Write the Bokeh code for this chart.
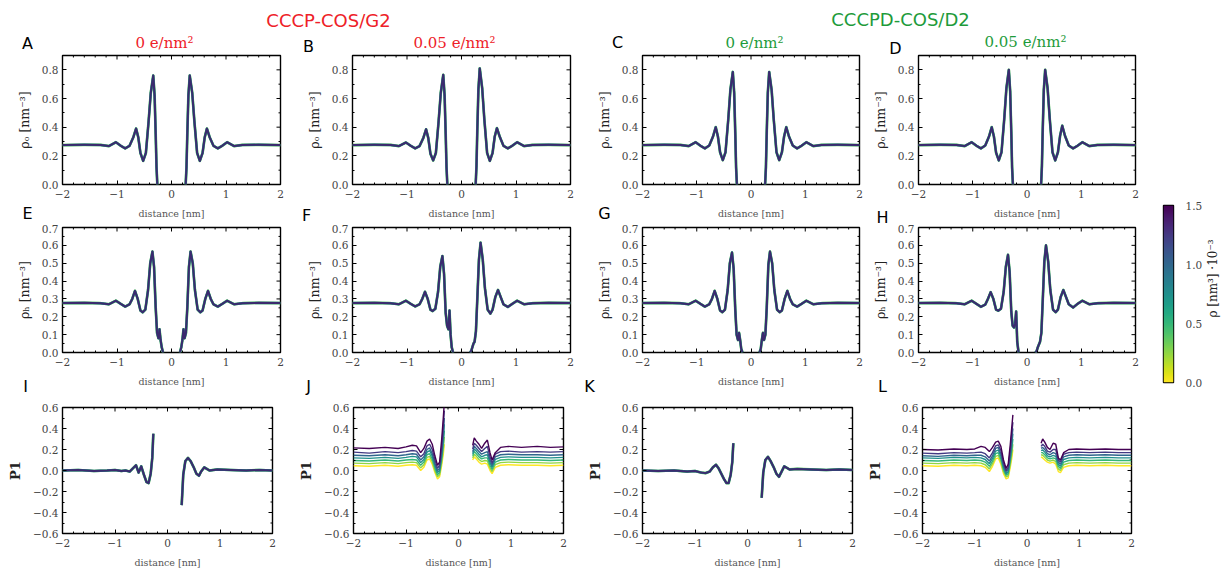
import numpy as np
from bokeh.plotting import figure
from bokeh.models import Range1d, FixedTicker, Label, LinearColorMapper, CustomJSTickFormatter, GridBox
from bokeh.layouts import row, column
from bokeh.palettes import Viridis256
from bokeh.embed import file_html
from bokeh.resources import INLINE

# ---------------- data ----------------
# oxygen density rho_O (panels A-D)
XO_L = [-2.0, -1.6, -1.3, -1.15, -1.02, -0.93, -0.85, -0.77, -0.70, -0.65, -0.61, -0.57, -0.52, -0.47, -0.42, -0.38, -0.335, -0.31, -0.29, -0.275, -0.26]
XO_R = [0.26, 0.275, 0.29, 0.31, 0.335, 0.38, 0.42, 0.47, 0.52, 0.57, 0.61, 0.65, 0.70, 0.77, 0.85, 0.93, 1.02, 1.15, 1.3, 1.6, 2.0]
A_L = [0.275, 0.277, 0.276, 0.268, 0.295, 0.270, 0.252, 0.270, 0.330, 0.390, 0.330, 0.220, 0.165, 0.220, 0.440, 0.640, 0.760, 0.620, 0.350, 0.120, 0.0]
A_R = [0.0, 0.120, 0.350, 0.620, 0.760, 0.640, 0.440, 0.220, 0.165, 0.220, 0.330, 0.390, 0.330, 0.270, 0.252, 0.270, 0.295, 0.268, 0.276, 0.277, 0.275]
B_L = [0.275, 0.277, 0.276, 0.268, 0.293, 0.270, 0.252, 0.268, 0.325, 0.385, 0.325, 0.215, 0.168, 0.220, 0.440, 0.640, 0.765, 0.620, 0.350, 0.120, 0.0]
B_R = [0.0, 0.130, 0.380, 0.660, 0.810, 0.670, 0.450, 0.220, 0.165, 0.220, 0.335, 0.393, 0.335, 0.270, 0.252, 0.270, 0.295, 0.268, 0.276, 0.277, 0.275]
C_L = [0.275, 0.277, 0.276, 0.268, 0.295, 0.270, 0.252, 0.272, 0.335, 0.400, 0.335, 0.225, 0.170, 0.225, 0.450, 0.660, 0.785, 0.640, 0.360, 0.120, 0.0]
C_R = [0.0, 0.120, 0.360, 0.640, 0.785, 0.660, 0.450, 0.225, 0.170, 0.225, 0.335, 0.400, 0.335, 0.272, 0.252, 0.270, 0.295, 0.268, 0.276, 0.277, 0.275]
D_L = [0.275, 0.277, 0.276, 0.268, 0.295, 0.270, 0.252, 0.272, 0.335, 0.400, 0.335, 0.222, 0.168, 0.225, 0.455, 0.670, 0.800, 0.650, 0.370, 0.120, 0.0]
D_R = [0.0, 0.130, 0.380, 0.660, 0.800, 0.670, 0.455, 0.225, 0.168, 0.225, 0.340, 0.410, 0.340, 0.272, 0.252, 0.270, 0.295, 0.268, 0.276, 0.277, 0.275]

# hydrogen density rho_H (panels E-H)
XH_L = [-2.0, -1.6, -1.3, -1.15, -1.02, -0.93, -0.85, -0.77, -0.72, -0.67, -0.62, -0.57, -0.53, -0.48, -0.43, -0.39, -0.35, -0.32, -0.29, -0.265, -0.24, -0.22, -0.2, -0.18, -0.155]
XH_R = [0.155, 0.18, 0.2, 0.22, 0.24, 0.265, 0.29, 0.32, 0.35, 0.39, 0.43, 0.48, 0.53, 0.57, 0.62, 0.67, 0.72, 0.77, 0.85, 0.93, 1.02, 1.15, 1.3, 1.6, 2.0]
E_L = [0.277, 0.278, 0.276, 0.270, 0.290, 0.272, 0.257, 0.270, 0.300, 0.345, 0.300, 0.235, 0.225, 0.240, 0.350, 0.500, 0.565, 0.480, 0.250, 0.110, 0.080, 0.130, 0.070, 0.030, 0.0]
E_R = [0.0, 0.030, 0.070, 0.130, 0.080, 0.110, 0.250, 0.480, 0.565, 0.500, 0.350, 0.240, 0.225, 0.235, 0.300, 0.345, 0.300, 0.270, 0.257, 0.272, 0.290, 0.270, 0.276, 0.278, 0.277]
F_L = [0.277, 0.278, 0.276, 0.270, 0.290, 0.272, 0.258, 0.270, 0.300, 0.340, 0.300, 0.240, 0.232, 0.245, 0.340, 0.480, 0.540, 0.440, 0.220, 0.150, 0.130, 0.235, 0.100, 0.030, 0.0]
F_R = [0.0, 0.010, 0.030, 0.050, 0.060, 0.120, 0.300, 0.520, 0.615, 0.520, 0.360, 0.240, 0.218, 0.240, 0.310, 0.350, 0.310, 0.270, 0.255, 0.272, 0.290, 0.270, 0.276, 0.278, 0.277]
G_L = [0.277, 0.278, 0.276, 0.270, 0.290, 0.272, 0.257, 0.270, 0.300, 0.345, 0.300, 0.235, 0.226, 0.240, 0.350, 0.500, 0.560, 0.470, 0.240, 0.100, 0.070, 0.110, 0.070, 0.020, 0.0]
G_R = [0.0, 0.020, 0.070, 0.110, 0.070, 0.100, 0.250, 0.490, 0.565, 0.500, 0.350, 0.240, 0.226, 0.235, 0.300, 0.345, 0.300, 0.270, 0.257, 0.272, 0.290, 0.270, 0.276, 0.278, 0.277]
H_L = [0.277, 0.278, 0.276, 0.270, 0.290, 0.272, 0.256, 0.268, 0.300, 0.338, 0.300, 0.240, 0.234, 0.245, 0.340, 0.480, 0.547, 0.450, 0.230, 0.150, 0.140, 0.160, 0.230, 0.060, 0.0]
H_R = [0.0, 0.010, 0.030, 0.045, 0.060, 0.110, 0.290, 0.510, 0.600, 0.510, 0.350, 0.240, 0.226, 0.240, 0.310, 0.350, 0.310, 0.270, 0.252, 0.272, 0.290, 0.270, 0.276, 0.278, 0.277]

# orientation P1 (panels I-L)
XP_L = [-2.0, -1.7, -1.4, -1.15, -1.0, -0.88, -0.8, -0.72, -0.66, -0.6, -0.55, -0.5, -0.45, -0.4, -0.36, -0.32, -0.29, -0.27]
XP_R = [0.27, 0.3, 0.34, 0.39, 0.44, 0.5, 0.55, 0.6, 0.64, 0.7, 0.8, 0.95, 1.2, 1.5, 1.75, 2.0]
I_L = [0.0, 0.005, -0.005, 0.0, 0.005, -0.005, 0.0, -0.01, 0.02, 0.05, -0.02, 0.04, -0.04, -0.11, -0.12, -0.03, 0.12, 0.35]
I_R = [-0.33, -0.04, 0.09, 0.12, 0.09, 0.03, -0.03, -0.05, -0.01, 0.03, 0.0, 0.01, 0.005, 0.0, 0.005, 0.0]
K_L = [0.0, -0.005, 0.0, -0.01, -0.005, -0.02, -0.025, -0.01, 0.03, 0.055, 0.02, -0.03, -0.08, -0.12, -0.12, -0.04, 0.08, 0.26]
K_R = [-0.26, -0.02, 0.10, 0.13, 0.09, 0.03, -0.03, -0.06, -0.02, 0.04, 0.01, 0.015, 0.01, 0.005, 0.01, 0.005]

# rho levels (x 1e-3 nm^3) of the fan of curves in J and L
RHO_LEVELS = [0.0, 0.25, 0.5, 0.75, 1.0, 1.25, 1.5]
J_LEFT = [
    [0.045, 0.040, 0.050, 0.040, 0.050, 0.055, 0.050, 0.000, 0.030, 0.100, 0.110, 0.060, -0.020, -0.080, -0.060, 0.050, 0.150, 0.250],
    [0.070, 0.065, 0.075, 0.065, 0.075, 0.080, 0.075, 0.025, 0.055, 0.125, 0.135, 0.085, 0.000, -0.060, -0.040, 0.080, 0.200, 0.320],
    [0.095, 0.090, 0.100, 0.090, 0.100, 0.105, 0.100, 0.050, 0.080, 0.150, 0.160, 0.110, 0.025, -0.040, -0.020, 0.110, 0.250, 0.380],
    [0.120, 0.115, 0.125, 0.115, 0.125, 0.135, 0.130, 0.075, 0.105, 0.175, 0.190, 0.135, 0.050, -0.020, 0.000, 0.140, 0.300, 0.440],
    [0.145, 0.140, 0.150, 0.140, 0.150, 0.160, 0.155, 0.100, 0.130, 0.200, 0.215, 0.160, 0.070, 0.000, 0.020, 0.170, 0.350, 0.500],
    [0.175, 0.165, 0.180, 0.170, 0.180, 0.190, 0.185, 0.130, 0.160, 0.235, 0.250, 0.200, 0.100, 0.020, 0.050, 0.220, 0.420, 0.570],
    [0.215, 0.210, 0.220, 0.210, 0.225, 0.240, 0.235, 0.170, 0.210, 0.280, 0.300, 0.250, 0.140, 0.050, 0.080, 0.300, 0.500, 0.650],
]
J_RIGHT = [
    [0.100, 0.130, 0.110, 0.080, 0.060, 0.070, 0.060, 0.000, -0.030, 0.030, 0.050, 0.055, 0.050, 0.050, 0.045, 0.050],
    [0.120, 0.155, 0.135, 0.105, 0.085, 0.095, 0.090, 0.025, -0.010, 0.055, 0.075, 0.080, 0.075, 0.075, 0.070, 0.075],
    [0.140, 0.180, 0.160, 0.130, 0.110, 0.120, 0.120, 0.050, 0.010, 0.080, 0.100, 0.105, 0.100, 0.100, 0.095, 0.100],
    [0.160, 0.205, 0.185, 0.155, 0.130, 0.145, 0.150, 0.075, 0.030, 0.105, 0.125, 0.130, 0.125, 0.125, 0.120, 0.125],
    [0.180, 0.230, 0.210, 0.180, 0.155, 0.170, 0.180, 0.100, 0.050, 0.130, 0.150, 0.155, 0.150, 0.150, 0.145, 0.150],
    [0.205, 0.260, 0.240, 0.210, 0.180, 0.210, 0.230, 0.130, 0.070, 0.155, 0.180, 0.185, 0.175, 0.180, 0.175, 0.180],
    [0.240, 0.310, 0.280, 0.250, 0.210, 0.260, 0.290, 0.170, 0.100, 0.170, 0.220, 0.230, 0.220, 0.230, 0.220, 0.225],
]
L_LEFT = [
    [0.045, 0.040, 0.050, 0.045, 0.050, 0.045, 0.030, -0.010, 0.040, 0.110, 0.120, 0.060, -0.030, -0.080, -0.070, 0.030, 0.120, 0.200],
    [0.070, 0.065, 0.075, 0.070, 0.075, 0.070, 0.055, 0.015, 0.065, 0.135, 0.145, 0.085, -0.010, -0.060, -0.050, 0.060, 0.160, 0.250],
    [0.095, 0.090, 0.100, 0.095, 0.100, 0.095, 0.080, 0.040, 0.090, 0.160, 0.170, 0.110, 0.010, -0.045, -0.030, 0.090, 0.200, 0.300],
    [0.120, 0.115, 0.125, 0.120, 0.125, 0.120, 0.105, 0.065, 0.115, 0.185, 0.195, 0.135, 0.030, -0.030, -0.010, 0.120, 0.250, 0.350],
    [0.140, 0.135, 0.145, 0.140, 0.145, 0.145, 0.130, 0.090, 0.140, 0.210, 0.220, 0.160, 0.050, -0.010, 0.010, 0.150, 0.300, 0.400],
    [0.165, 0.160, 0.170, 0.165, 0.170, 0.175, 0.160, 0.120, 0.170, 0.235, 0.245, 0.190, 0.070, 0.000, 0.030, 0.190, 0.360, 0.460],
    [0.200, 0.195, 0.205, 0.200, 0.205, 0.230, 0.220, 0.180, 0.220, 0.270, 0.280, 0.230, 0.100, 0.020, 0.060, 0.250, 0.420, 0.530],
]
L_RIGHT = [
    [0.130, 0.120, 0.100, 0.080, 0.070, 0.080, 0.060, -0.010, -0.020, 0.030, 0.045, 0.050, 0.045, 0.050, 0.045, 0.045],
    [0.150, 0.145, 0.125, 0.100, 0.090, 0.100, 0.085, 0.015, 0.000, 0.055, 0.070, 0.075, 0.070, 0.075, 0.070, 0.070],
    [0.170, 0.170, 0.150, 0.120, 0.110, 0.120, 0.110, 0.040, 0.020, 0.080, 0.095, 0.100, 0.095, 0.100, 0.095, 0.095],
    [0.190, 0.195, 0.175, 0.140, 0.130, 0.145, 0.135, 0.060, 0.040, 0.105, 0.120, 0.125, 0.120, 0.125, 0.120, 0.120],
    [0.210, 0.220, 0.200, 0.160, 0.150, 0.170, 0.160, 0.080, 0.060, 0.130, 0.145, 0.150, 0.145, 0.150, 0.145, 0.145],
    [0.230, 0.250, 0.230, 0.185, 0.175, 0.200, 0.200, 0.100, 0.080, 0.155, 0.170, 0.175, 0.170, 0.175, 0.170, 0.170],
    [0.260, 0.300, 0.270, 0.220, 0.200, 0.260, 0.250, 0.120, 0.100, 0.170, 0.200, 0.205, 0.200, 0.205, 0.200, 0.200],
]

X_TICKS = [-2, -1, 0, 1, 2]
X_MINOR = [-1.8, -1.6, -1.4, -1.2, -0.8, -0.6, -0.4, -0.2, 0.2, 0.4, 0.6, 0.8, 1.2, 1.4, 1.6, 1.8]
ROW_YRANGE = [(0.0, 0.9), (0.0, 0.7), (-0.6, 0.6)]
ROW_YTICKS = [[0.0, 0.2, 0.4, 0.6, 0.8],
              [0.0, 0.1, 0.2, 0.3, 0.4, 0.5, 0.6, 0.7],
              [-0.6, -0.4, -0.2, 0.0, 0.2, 0.4, 0.6]]
ROW_YMINOR = [[0.1, 0.3, 0.5, 0.7],
              [0.05, 0.15, 0.25, 0.35, 0.45, 0.55, 0.65],
              [-0.5, -0.3, -0.1, 0.1, 0.3, 0.5]]
CBAR_TICKS = [0.0, 0.5, 1.0, 1.5]

SUPTITLES = ["CCCP-COS/G2", "CCCPD-COS/D2"]
SUBTITLES = ["0 e/nm²", "0.05 e/nm²", "0 e/nm²", "0.05 e/nm²"]
LETTERS = ["A", "B", "C", "D", "E", "F", "G", "H", "I", "J", "K", "L"]
YLABELS = ["ρₒ [nm⁻³]", "ρₕ [nm⁻³]", "P1"]
XLABEL = "distance [nm]"
CBAR_LABEL = "ρ [nm³] ·10⁻³"

# ---------------- layout (page pixels, origin at the page's top-left) ----------------
SERIF = "DejaVu Serif"
SANS = "DejaVu Sans"
RED = "#ee2128"
GREEN = "#1e9b3b"
SUB_COLORS = [RED, RED, GREEN, GREEN]

COL_X = [0, 290, 578, 865, 1146, 1221]
ROW_Y = [0, 224, 398, 571]
FRAME_X = [[(62, 280), (352, 570), (642, 859), (918, 1135)],
           [(62, 280), (352, 570), (642, 859), (918, 1135)],
           [(62, 272), (353, 563), (642, 852), (920, 1131)]]
FRAME_Y = [(55, 184), (227, 352), (407, 533)]
SUPTITLE_POS = [(328, 20), (900, 19)]
SUB_POS = [(164, 42), (454, 42), (754, 42), (1025, 41)]
LETTER_POS = [(27, 43), (308, 46), (617, 42), (895, 48),
              (27, 213), (306, 215), (604, 213), (882, 217),
              (25, 386), (308, 386), (589, 386), (882, 386)]
CB_X = (1163, 1173)
CB_Y = (205, 382)
CBAR_LABEL_POS = (1212, 278)

LAYERS = [("#6ccd5a", 2.7), ("#26828e", 2.4), ("#3b2a6e", 2.0)]

FMT_Y = CustomJSTickFormatter(code="return (tick < -1e-9 ? '\u2212' : '') + Math.abs(tick).toFixed(1);")
FMT_X = CustomJSTickFormatter(code="return (tick < -1e-9 ? '\u2212' : '') + Math.abs(tick).toFixed(0);")


def viridis_r(v):
    return Viridis256[255 - int(round(v / 1.5 * 255))]


def style_axis(ax, ticks, minor, fmt):
    ax.ticker = FixedTicker(ticks=ticks, minor_ticks=minor)
    ax.formatter = fmt
    ax.axis_line_color = None
    ax.major_tick_in = 4
    ax.major_tick_out = 0
    ax.minor_tick_in = 2
    ax.minor_tick_out = 0
    ax.major_tick_line_color = "black"
    ax.minor_tick_line_color = "black"
    ax.major_label_text_font = SERIF
    ax.major_label_text_font_size = "10.5px"
    ax.major_label_text_color = "#444444"


def make_panel(r, c):
    fx0, fx1 = FRAME_X[r][c]
    fy0, fy1 = FRAME_Y[r]
    y0, y1 = ROW_YRANGE[r]
    W = COL_X[c + 1] - COL_X[c]
    H = ROW_Y[r + 1] - ROW_Y[r]
    p = figure(width=W, height=H, x_range=Range1d(-2, 2), y_range=Range1d(y0, y1),
               output_backend="svg", toolbar_location=None,
               min_border_left=fx0 - COL_X[c], min_border_right=COL_X[c + 1] - fx1,
               min_border_top=fy0 - ROW_Y[r], min_border_bottom=ROW_Y[r + 1] - fy1)
    p.xgrid.visible = False
    p.ygrid.visible = False
    p.outline_line_color = "black"
    p.outline_line_width = 1.4
    xa = p.below[0]
    ya = p.left[0]
    style_axis(xa, X_TICKS, X_MINOR, FMT_X)
    style_axis(ya, ROW_YTICKS[r], ROW_YMINOR[r], FMT_Y)

    xa.axis_label = XLABEL
    xa.axis_label_text_font = SERIF
    xa.axis_label_text_font_size = "9.5px"
    xa.axis_label_text_font_style = "normal"
    xa.axis_label_text_color = "#555555"
    xa.major_label_standoff = 5
    xa.axis_label_standoff = 7

    ya.axis_label = YLABELS[r]
    ya.axis_label_text_font = SERIF
    ya.axis_label_text_font_size = "12.5px" if r < 2 else "13px"
    ya.axis_label_text_font_style = "normal" if r < 2 else "bold"
    ya.axis_label_text_color = "#222222"
    ya.major_label_standoff = 4
    ya.axis_label_standoff = 7

    # inward ticks on the top and right edges of the frame
    dmaj_y = 4 * (y1 - y0) / (fy1 - fy0)
    dmin_y = 2 * (y1 - y0) / (fy1 - fy0)
    dmaj_x = 4 * 4 / (fx1 - fx0)
    dmin_x = 2 * 4 / (fx1 - fx0)
    p.segment(x0=X_TICKS, y0=[y1] * len(X_TICKS), x1=X_TICKS, y1=[y1 - dmaj_y] * len(X_TICKS),
              line_color="black", line_width=1)
    p.segment(x0=X_MINOR, y0=[y1] * len(X_MINOR), x1=X_MINOR, y1=[y1 - dmin_y] * len(X_MINOR),
              line_color="black", line_width=1)
    yt, ym = ROW_YTICKS[r], ROW_YMINOR[r]
    p.segment(x0=[2] * len(yt), y0=yt, x1=[2 - dmaj_x] * len(yt), y1=yt, line_color="black", line_width=1)
    p.segment(x0=[2] * len(ym), y0=ym, x1=[2 - dmin_x] * len(ym), y1=ym, line_color="black", line_width=1)
    return p


def draw_layered(p, xs, ys):
    for col, w in LAYERS:
        p.line(xs, ys, line_color=col, line_width=w, line_join="round")


RHO_O = [(A_L, A_R), (B_L, B_R), (C_L, C_R), (D_L, D_R)]
RHO_H = [(E_L, E_R), (F_L, F_R), (G_L, G_R), (H_L, H_R)]

panels = [[None] * 4 for _ in range(3)]
for c in range(4):
    p = make_panel(0, c)
    draw_layered(p, XO_L, RHO_O[c][0])
    draw_layered(p, XO_R, RHO_O[c][1])
    panels[0][c] = p
    p = make_panel(1, c)
    draw_layered(p, XH_L, RHO_H[c][0])
    draw_layered(p, XH_R, RHO_H[c][1])
    panels[1][c] = p
    p = make_panel(2, c)
    if c == 0:
        draw_layered(p, XP_L, I_L)
        draw_layered(p, XP_R, I_R)
    elif c == 2:
        draw_layered(p, XP_L, K_L)
        draw_layered(p, XP_R, K_R)
    else:
        left, right = (J_LEFT, J_RIGHT) if c == 1 else (L_LEFT, L_RIGHT)
        for k, lev in enumerate(RHO_LEVELS):
            col = viridis_r(lev)
            p.line(XP_L, left[k], line_color=col, line_width=1.4)
            p.line(XP_R, right[k], line_color=col, line_width=1.4)
    panels[2][c] = p

# colour bar
cb = figure(width=COL_X[5] - COL_X[4], height=ROW_Y[3] - ROW_Y[0],
            x_range=Range1d(0, 1), y_range=Range1d(0, 1.5), x_axis_type=None,
            y_axis_location="right", output_backend="svg", toolbar_location=None,
            min_border_left=CB_X[0] - COL_X[4], min_border_right=COL_X[5] - CB_X[1],
            min_border_top=CB_Y[0] - ROW_Y[0], min_border_bottom=ROW_Y[3] - CB_Y[1])
cb.xgrid.visible = False
cb.ygrid.visible = False
cb.outline_line_color = "black"
cb.outline_line_width = 1.4
mapper = LinearColorMapper(palette=list(Viridis256)[::-1], low=0, high=1.5)
grad = np.linspace(0, 1.5, 256).reshape(256, 1)
cb.image(image=[grad], x=0, y=0, dw=1, dh=1.5, color_mapper=mapper)
ax = cb.right[0]
ax.ticker = FixedTicker(ticks=CBAR_TICKS)
ax.formatter = FMT_Y
ax.axis_line_color = None
ax.major_tick_in = 0
ax.major_tick_out = 0
ax.minor_tick_in = 0
ax.minor_tick_out = 0
ax.major_label_standoff = 12
ax.major_label_text_font = SERIF
ax.major_label_text_font_size = "10.5px"
ax.major_label_text_color = "#444444"

main = row(column(row(*panels[0]), row(*panels[1]), row(*panels[2])), cb)

# transparent overlay carrying the free texts (page coordinates as data)
ov = figure(width=COL_X[-1], height=ROW_Y[-1], x_range=Range1d(0, COL_X[-1]), y_range=Range1d(ROW_Y[-1], 0),
            x_axis_type=None, y_axis_type=None, min_border=0, output_backend="svg",
            toolbar_location=None, outline_line_color=None)
ov.xgrid.visible = False
ov.ygrid.visible = False
ov.background_fill_color = None
ov.border_fill_color = None
for (px, py), t, col in zip(SUPTITLE_POS, SUPTITLES, [RED, GREEN]):
    ov.add_layout(Label(x=px, y=py, text=t, text_font=SANS, text_font_size="18px",
                        text_color=col, text_align="center", text_baseline="middle"))
for (px, py), t, col in zip(SUB_POS, SUBTITLES, SUB_COLORS):
    ov.add_layout(Label(x=px, y=py, text=t, text_font=SERIF, text_font_size="15px",
                        text_color=col, text_align="center", text_baseline="middle"))
for (px, py), t in zip(LETTER_POS, LETTERS):
    ov.add_layout(Label(x=px, y=py, text=t, text_font=SANS, text_font_size="16px",
                        text_color="black", text_align="center", text_baseline="middle"))
ov.add_layout(Label(x=CBAR_LABEL_POS[0], y=CBAR_LABEL_POS[1], text=CBAR_LABEL, angle=np.pi / 2,
                    text_font=SERIF, text_font_size="12px", text_color="#222222",
                    text_align="center", text_baseline="middle"))

layout = GridBox(children=[(main, 0, 0), (ov, 0, 0)])

open("out.html", "w").write(file_html(layout, INLINE))
